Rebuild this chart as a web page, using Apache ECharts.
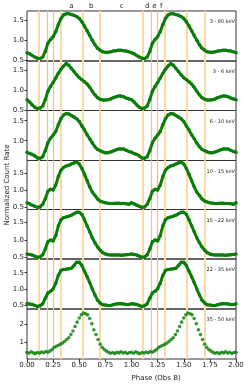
<!DOCTYPE html>
<html>
<head>
<meta charset="utf-8">
<script src="https://cdn.jsdelivr.net/npm/echarts@6/dist/echarts.min.js"></script>
<style>
html,body{margin:0;padding:0;background:#fff;}
#c{width:248px;height:387px;}
</style>
</head>
<body>
<div id="c"></div>
<script>
// ---- data (one pulse cycle, shown twice) ----
const phase = [0,0.025,0.05,0.075,0.1,0.125,0.15,0.175,0.2,0.225,0.25,0.275,0.3,0.325,0.35,0.375,0.4,0.425,0.45,0.475,0.5,0.525,0.55,0.575,0.6,0.625,0.65,0.675,0.7,0.725,0.75,0.775,0.8,0.825,0.85,0.875,0.9,0.925,0.95,0.975];
const phaseFine = [0,0.02,0.04,0.06,0.08,0.1,0.12,0.14,0.16,0.18,0.2,0.22,0.24,0.26,0.28,0.3,0.32,0.34,0.36,0.38,0.4,0.42,0.44,0.46,0.48,0.5,0.52,0.54,0.56,0.58,0.6,0.62,0.64,0.66,0.68,0.7,0.72,0.74,0.76,0.78,0.8,0.82,0.84,0.86,0.88,0.9,0.92,0.94,0.96,0.98];

const band3_80  = [0.69,0.66,0.62,0.58,0.55,0.54,0.58,0.72,0.93,1.02,1.09,1.22,1.40,1.55,1.64,1.67,1.67,1.65,1.63,1.60,1.55,1.47,1.36,1.24,1.12,1.00,0.89,0.80,0.75,0.71,0.70,0.70,0.71,0.73,0.74,0.75,0.75,0.74,0.73,0.71];
const band3_6   = [0.76,0.70,0.63,0.57,0.54,0.55,0.60,0.76,0.97,1.09,1.19,1.30,1.42,1.52,1.60,1.66,1.62,1.54,1.46,1.38,1.31,1.26,1.21,1.15,1.07,0.97,0.88,0.81,0.77,0.75,0.75,0.76,0.78,0.81,0.83,0.85,0.85,0.83,0.80,0.78];
const band6_10  = [0.71,0.68,0.655,0.62,0.57,0.56,0.60,0.75,0.95,1.06,1.14,1.23,1.40,1.55,1.64,1.68,1.67,1.63,1.59,1.55,1.48,1.37,1.27,1.15,1.05,0.94,0.85,0.78,0.75,0.72,0.70,0.70,0.72,0.74,0.77,0.79,0.795,0.79,0.76,0.73];
const band10_15 = [0.64,0.61,0.57,0.54,0.51,0.52,0.60,0.76,0.97,1.03,1.01,1.15,1.40,1.58,1.66,1.70,1.72,1.76,1.79,1.82,1.76,1.63,1.46,1.28,1.10,0.95,0.85,0.75,0.69,0.66,0.64,0.63,0.62,0.62,0.63,0.63,0.62,0.62,0.61,0.60];
const band15_22 = [0.60,0.59,0.57,0.54,0.51,0.52,0.58,0.74,0.95,1.00,0.97,1.12,1.40,1.57,1.63,1.65,1.67,1.70,1.74,1.78,1.78,1.72,1.57,1.40,1.23,1.06,0.92,0.80,0.71,0.64,0.60,0.58,0.575,0.575,0.575,0.57,0.565,0.57,0.58,0.59];
const band22_35 = [0.55,0.54,0.53,0.50,0.47,0.49,0.55,0.72,0.88,0.93,1.01,1.18,1.42,1.57,1.60,1.61,1.62,1.64,1.72,1.82,1.82,1.72,1.55,1.38,1.20,1.00,0.82,0.66,0.57,0.52,0.51,0.50,0.50,0.52,0.54,0.55,0.55,0.54,0.53,0.53];
const band35_50 = [0.45,0.40,0.48,0.42,0.38,0.44,0.41,0.47,0.43,0.50,0.46,0.53,0.60,0.72,0.78,0.84,0.90,0.96,1.05,1.15,1.25,1.42,1.62,1.86,2.10,2.33,2.50,2.60,2.56,2.50,2.30,2.02,1.68,1.42,1.15,0.90,0.72,0.60,0.52,0.45,0.40,0.44,0.38,0.45,0.42,0.48,0.41,0.46,0.39,0.44];

const bandLabels = ['3 - 80 keV','3 - 6 keV','6 - 10 keV','10 - 15 keV','15 - 22 keV','22 - 35 keV','35 - 50 keV'];
const yMin = [0.48,0.49,0.505,0.447,0.46,0.39,0.087];
const yMax = [1.74,1.725,1.755,1.86,1.86,1.92,2.82];
const yTicks = [[0.5,1.0,1.5],[0.5,1.0,1.5],[0.5,1.0,1.5],[0.5,1.0,1.5],[0.5,1.0,1.5],[0.5,1.0,1.5],[1,2]];
const boundaryWide = [0.11,0.32,0.53,0.70];
const boundaryThin = [0.19,0.25];
const regionLetters = ['a','b','c','d','e','f'];
const regionPhases = [0.425,0.615,0.905,1.15,1.22,1.285];

// ---- layout ----
const FONT = 'DejaVu Sans';
const L = 27, R = 12;
const tops = [11,61,110.5,160.5,209.5,259,309,359];
const GREEN = '#0a7d0a';

function twoCycles(ph, vals){
  const out = [];
  ph.forEach((p,i)=>out.push([p, vals[i]]));
  ph.forEach((p,i)=>out.push([p+1, vals[i]]));
  out.push([2, vals[0]]);
  return out;
}
function bothCycles(arr){ return arr.concat(arr.map(p=>+(p+1).toFixed(3))); }
const bands = [band3_80,band3_6,band6_10,band10_15,band15_22,band22_35];

const grids=[], xAxes=[], yAxes=[], series=[], graphics=[];

function vlineSeries(i, vals, color, width){
  return {type:'lines', coordinateSystem:'cartesian2d', xAxisIndex:i, yAxisIndex:i, z:1, silent:true,
    polyline:false, animation:false,
    lineStyle:{color:color, width:width, opacity:1, type:'solid'},
    data: bothCycles(vals).map(p=>({coords:[[p, yMin[i]],[p, yMax[i]]]}))};
}

for (let i=0;i<7;i++){
  grids.push({left:L, right:R, top:tops[i], height:tops[i+1]-tops[i], show:true, borderColor:'#333', borderWidth:1, backgroundColor:'transparent'});
  const last = i===6;
  xAxes.push({type:'value', gridIndex:i, min:0, max:2, interval:0.25,
    axisLine:{show:false}, splitLine:{show:false},
    axisTick:{show:last, length:3, lineStyle:{color:'#333'}},
    axisLabel:{show:last, fontFamily:FONT, fontSize:7, color:'#222', margin:3,
      formatter:v=>v.toFixed(2)}});
  yAxes.push({type:'value', gridIndex:i, min:yMin[i], max:yMax[i],
    axisLine:{show:false}, splitLine:{show:false},
    axisTick:{show:true, length:2.5, customValues:yTicks[i], lineStyle:{color:'#333'}},
    axisLabel:{show:true, fontFamily:FONT, fontSize:7, color:'#222', margin:3,
      customValues:yTicks[i], formatter:v=> i===6 ? String(Math.round(v)) : v.toFixed(1)}});
  series.push(vlineSeries(i, boundaryWide, '#fdd8a8', 2));
  series.push(vlineSeries(i, boundaryThin, '#fbc078', 1.2));
  if (!last){
    series.push({type:'line', xAxisIndex:i, yAxisIndex:i, z:3,
      data: twoCycles(phase, bands[i]),
      symbol:'circle', symbolSize:3.5, showSymbol:true, showAllSymbol:true,
      lineStyle:{color:GREEN, width:3}, itemStyle:{color:GREEN}});
  } else {
    series.push({type:'scatter', xAxisIndex:i, yAxisIndex:i, z:3,
      data: twoCycles(phaseFine, band35_50),
      symbol:'circle', symbolSize:3.6, itemStyle:{color:GREEN}});
  }
  graphics.push({type:'text', right:13, top:tops[i]+8.5, style:{text:bandLabels[i], font:'5px '+FONT, fill:'#222'}});
}

graphics.push({type:'text', left:131.5, top:375, style:{text:'Phase (Obs B)', font:'7px '+FONT, fill:'#222', textAlign:'center'}});
graphics.push({type:'text', x:7.5, y:185, rotation:Math.PI/2, style:{text:'Normalized Count Rate', font:'7px '+FONT, fill:'#222', textAlign:'center', textVerticalAlign:'middle'}});

const chart = echarts.init(document.getElementById('c'), null, {renderer:'canvas'});
chart.setOption({animation:false, backgroundColor:'#fff', grid:grids, xAxis:xAxes, yAxis:yAxes, series:series, graphic:graphics});

// region letters positioned through the top panel's x scale
const letterGraphics = regionLetters.map((t,k)=>{
  const px = chart.convertToPixel({gridIndex:0}, [regionPhases[k], yMax[0]]);
  return {type:'text', x:px[0], y:6.5, style:{text:t, font:'7px '+FONT, fill:'#222', textAlign:'center', textVerticalAlign:'middle'}};
});
chart.setOption({graphic: graphics.concat(letterGraphics)});
</script>
</body>
</html>
